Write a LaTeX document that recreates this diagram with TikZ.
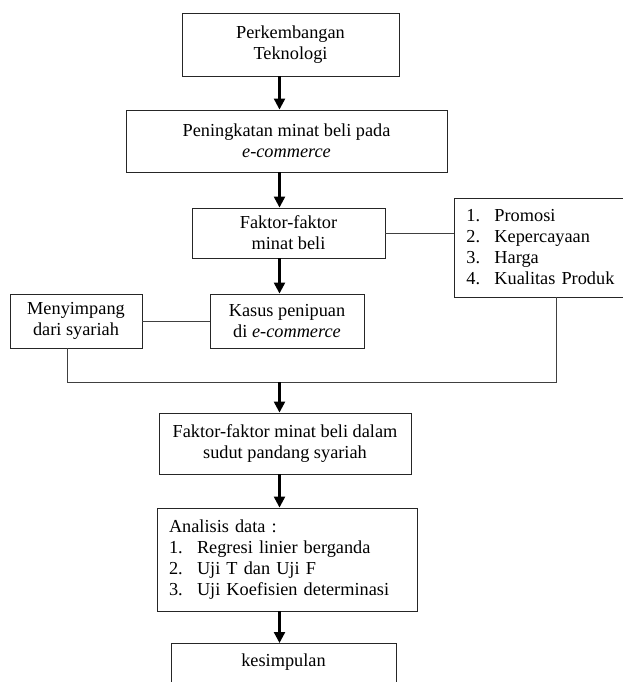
\documentclass[tikz,border=0pt]{standalone}
\usepackage{fontspec}
\setmainfont{Liberation Serif}
\usetikzlibrary{arrows.meta}
\newcommand{\itm}[2]{\makebox[28pt][l]{#1}#2}

\begin{document}
\begin{tikzpicture}[x=1pt, y=-1pt,
    box/.style={draw=black!85, line width=0.9pt, align=center, inner sep=0pt,
      font=\fontsize{18.3}{21}\selectfont},
    listbox/.style={box, align=left, inner xsep=12pt},
    arr/.style={line width=2.3pt, -{Triangle[width=11pt,length=11pt]}},
    link/.style={draw=black!75, line width=0.9pt}]
  \useasboundingbox (0,0) rectangle (623,682);

  \node[box, minimum width=217pt, minimum height=63pt] (tek) at (290.5,44.5) {Perkembangan\\Teknologi};
  \node[box, minimum width=321pt, minimum height=62pt] (pen) at (286.5,141) {Peningkatan minat beli pada\\\textit{e-commerce}};
  \node[box, minimum width=193pt, minimum height=50pt] (fak) at (288.5,233) {Faktor-faktor\\minat beli};
  \node[listbox, text width=152pt, minimum height=99pt, anchor=west] (lst) at (454,247.5)
    {\itm{1.}{Promosi}\\\itm{2.}{Kepercayaan}\\\itm{3.}{Harga}\\\itm{4.}{Kualitas Produk}};
  \node[box, minimum width=154pt, minimum height=54pt] (kas) at (287,321) {Kasus penipuan\\di \textit{e-commerce}};
  \node[box, minimum width=132pt, minimum height=54pt] (men) at (76,321) {Menyimpang\\dari syariah};
  \node[box, minimum width=252pt, minimum height=61pt] (sya) at (285,443.5) {Faktor-faktor minat beli dalam\\sudut pandang syariah};
  \node[listbox, text width=236pt, minimum height=103pt] (ana) at (287,559.5)
    {Analisis data :\\\itm{1.}{Regresi linier berganda}\\\itm{2.}{Uji T dan Uji F}\\\itm{3.}{Uji Koefisien determinasi}};
  \node[box, minimum width=225pt, text height=23pt, text depth=50pt, anchor=north] (kes) at (283.5,643) {kesimpulan};

  % arrow column and the joining line
  \coordinate (ax) at (279.5,0);
  \coordinate (busL) at (67,382);
  \coordinate (busR) at (556,382);

  \draw[arr] (tek.south -| ax) -- (ax |- pen.north);
  \draw[arr] (pen.south -| ax) -- (ax |- fak.north);
  \draw[arr] (fak.south -| ax) -- (ax |- kas.north);
  \draw[link] (fak.east) -- (fak.east -| lst.west);
  \draw[link] (men.east) -- (kas.west);
  \draw[link] (men.south -| busL) -- (busL) -- (busR) -- (busR |- lst.south);
  \draw[arr] (ax |- busL) -- (ax |- sya.north);
  \draw[arr] (sya.south -| ax) -- (ax |- ana.north);
  \draw[arr] (ana.south -| ax) -- (ax |- kes.north);
\end{tikzpicture}
\end{document}
